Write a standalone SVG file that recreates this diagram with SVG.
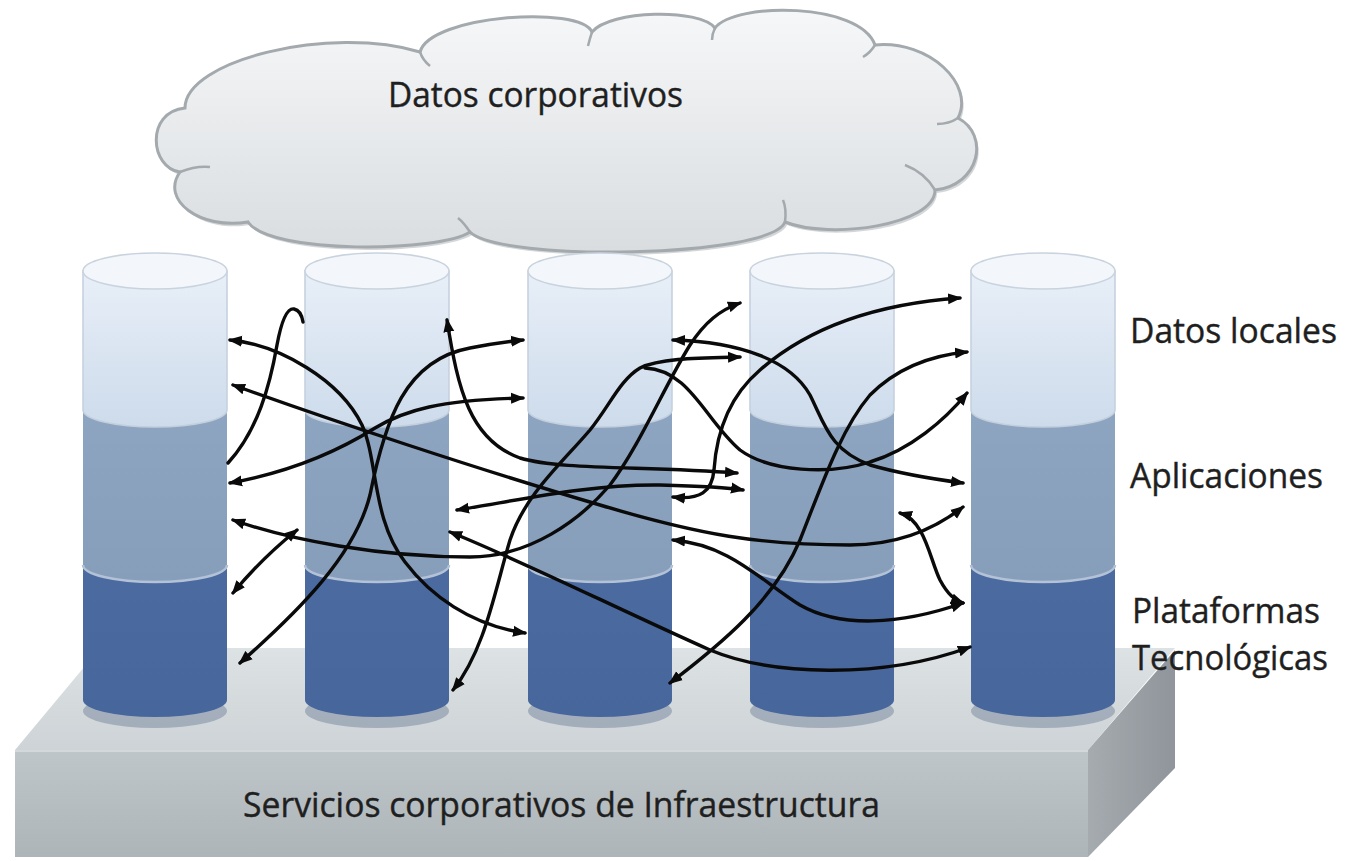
<svg xmlns="http://www.w3.org/2000/svg" xmlns:xlink="http://www.w3.org/1999/xlink" width="1345" height="861" viewBox="0 0 1345 861">
<style>
.lbl{font-family:'Open Sans','Liberation Sans',sans-serif;font-size:34px;fill:#1f1f1f;stroke:#1f1f1f;stroke-width:0.4}
.cn path{fill:none;stroke:#0a0a0a;stroke-width:3.4;stroke-linecap:round}
.both{marker-start:url(#ah);marker-end:url(#ah)}
.end{marker-end:url(#ah)}
</style>
<defs>
<marker id="ah" viewBox="0 0 14 12" refX="12" refY="6" markerWidth="14" markerHeight="12" markerUnits="userSpaceOnUse" orient="auto-start-reverse">
<path d="M0,0.5 L14,6 L0,11.5 Z" fill="#0a0a0a"/>
</marker>
<linearGradient id="gCloud" x1="0" y1="0" x2="0" y2="1">
<stop offset="0" stop-color="#f6f7f8"/><stop offset="1" stop-color="#d9dde0"/>
</linearGradient>
<linearGradient id="gLight" x1="0" y1="0" x2="0" y2="1">
<stop offset="0" stop-color="#e8eff8"/><stop offset="1" stop-color="#cddbeb"/>
</linearGradient>
<linearGradient id="gMid" x1="0" y1="0" x2="0" y2="1">
<stop offset="0" stop-color="#8ea5c1"/><stop offset="1" stop-color="#879ebb"/>
</linearGradient>
<linearGradient id="gDark" x1="0" y1="0" x2="0" y2="1">
<stop offset="0" stop-color="#4b6ba1"/><stop offset="1" stop-color="#46669c"/>
</linearGradient>
<linearGradient id="gTop" x1="0" y1="0" x2="0" y2="1">
<stop offset="0" stop-color="#dde2e4"/><stop offset="1" stop-color="#cdd3d6"/>
</linearGradient>
<linearGradient id="gFront" x1="0" y1="0" x2="0" y2="1">
<stop offset="0" stop-color="#bfc6ca"/><stop offset="1" stop-color="#aeb5b9"/>
</linearGradient>
<linearGradient id="gSide" x1="0" y1="0" x2="1" y2="0">
<stop offset="0" stop-color="#a5abaf"/><stop offset="1" stop-color="#8f959a"/>
</linearGradient>
<g id="cyl">
<ellipse cx="0" cy="711" rx="72" ry="17" fill="#7d8ca3" opacity="0.55"/>
<path d="M-72,565 L-72,700 A72,17 0 0 0 72,700 L72,565 A72,17 0 0 0 -72,565 Z" fill="url(#gDark)"/>
<path d="M-72,410 L-72,565 A72,17 0 0 0 72,565 L72,410 Z" fill="url(#gMid)"/>
<path d="M-72,565 A72,17 0 0 0 72,565" fill="none" stroke="#b3c2d6" stroke-width="2.5"/>
<path d="M-72,271 L-72,410 A72,17 0 0 0 72,410 L72,271 Z" fill="url(#gLight)" stroke="#c3cfdd" stroke-width="1.5"/>
<ellipse cx="0" cy="271" rx="72" ry="18" fill="#f3f7fb" stroke="#c9d3de" stroke-width="1.5"/>
</g>
</defs>
<rect width="1345" height="861" fill="#ffffff"/>

<g id="base">
<polygon points="100,648 1175,648 1088,750 15,750" fill="url(#gTop)"/>
<rect x="15" y="750" width="1073" height="107" fill="url(#gFront)"/>
<line x1="15" y1="751" x2="1088" y2="751" stroke="#d3d8db" stroke-width="2"/>
<polygon points="1088,750 1175,650 1175,768 1088,857" fill="url(#gSide)"/>
<text class="lbl" x="243" y="817" textLength="637" lengthAdjust="spacingAndGlyphs">Servicios corporativos de Infraestructura</text>
</g>

<g id="cloud">
<path transform="translate(2,3)" d="M180,172 C150,168 145,112 185,108 C185,60 330,25 420,52 C430,15 580,5 592,32 C610,10 700,8 715,28 C735,2 860,2 875,45 C930,40 975,85 958,118 C990,135 980,185 935,190 C935,225 830,240 785,222 C770,258 500,262 470,232 C440,252 270,255 248,222 C200,230 160,200 180,172 Z" fill="#b7bcbf" opacity="0.6"/>
<path d="M180,172 C150,168 145,112 185,108 C185,60 330,25 420,52 C430,15 580,5 592,32 C610,10 700,8 715,28 C735,2 860,2 875,45 C930,40 975,85 958,118 C990,135 980,185 935,190 C935,225 830,240 785,222 C770,258 500,262 470,232 C440,252 270,255 248,222 C200,230 160,200 180,172 Z" fill="url(#gCloud)" stroke="#a3a9ad" stroke-width="3"/>
<g fill="none" stroke="#a3a9ad" stroke-width="2.5">
<path d="M180,172 C190,168 200,166 210,167"/>
<path d="M420,52 C422,58 425,62 430,66"/>
<path d="M592,32 C590,38 589,42 588,46"/>
<path d="M715,28 C713,32 712,36 712,40"/>
<path d="M875,45 C872,50 868,54 863,57"/>
<path d="M958,118 C952,122 945,124 937,124"/>
<path d="M935,190 C928,178 918,170 905,165"/>
<path d="M785,222 C786,214 786,207 783,200"/>
<path d="M470,232 C466,226 463,222 458,218"/>
</g>
<text class="lbl" x="388" y="107" textLength="295" lengthAdjust="spacingAndGlyphs">Datos corporativos</text>
</g>

<g id="cyl1"><use xlink:href="#cyl" transform="translate(155,0)"/></g>
<g id="cyl2"><use xlink:href="#cyl" transform="translate(377,0)"/></g>
<g id="cyl3"><use xlink:href="#cyl" transform="translate(600,0)"/></g>
<g id="cyl4"><use xlink:href="#cyl" transform="translate(822,0)"/></g>
<g id="cyl5"><use xlink:href="#cyl" transform="translate(1043,0)"/></g>

<g id="connectors" class="cn">
<path class="both" d="M230,340 C280,345 340,380 362,425 C378,460 372,520 405,562 C430,595 470,625 525,633"/>
<path class="both" d="M233,385 C330,420 480,470 600,505 C700,535 760,545 850,545 C905,545 940,525 963,507"/>
<path class="both" d="M230,483 C290,472 340,450 375,428 C405,410 440,400 523,398"/>
<path class="both" d="M233,520 C290,540 380,557 470,557 C530,557 580,520 610,485 C640,445 665,385 690,345 C705,322 720,310 740,303"/>
<path class="both" d="M233,593 Q262,558 297,530"/>
<path d="M228,463 C258,430 270,385 277,345 C282,318 288,308 294,309 C299,310 302,316 303,322"/>
<path class="both" d="M240,663 C300,610 355,555 370,495 C385,420 405,360 470,348 C490,344 505,342 523,340"/>
<path class="both" d="M447,320 C458,390 470,440 520,458 C560,470 640,466 737,473"/>
<path class="both" d="M457,510 C520,500 590,484 660,485 C700,486 725,487 743,490"/>
<path class="both" d="M453,690 C485,650 495,590 510,540 C525,495 560,465 590,430 C610,405 620,380 640,368 C660,358 700,358 740,357"/>
<path class="end" d="M645,368 C690,370 705,420 740,450 C770,472 830,475 870,462 C910,450 945,420 967,393"/>
<path class="both" d="M673,340 C740,342 790,360 810,395 C825,425 830,450 870,465 C905,475 940,480 963,483"/>
<path class="both" d="M673,497 C700,500 712,492 714,470 C716,440 725,400 760,370 C800,335 860,305 960,298"/>
<path class="both" d="M670,683 C720,645 775,600 800,540 C820,490 840,430 870,395 C900,365 935,355 967,352"/>
<path class="both" d="M673,540 C730,545 760,580 800,605 C840,628 900,625 963,603"/>
<path class="both" d="M900,513 C925,520 930,560 940,580 C948,595 955,600 963,603"/>
<path class="both" d="M450,532 C520,560 620,610 710,650 C770,675 880,680 970,647"/>
</g>

<g id="labels">
<text class="lbl" x="1130" y="343" textLength="207" lengthAdjust="spacingAndGlyphs">Datos locales</text>
<text class="lbl" x="1130" y="488" textLength="193" lengthAdjust="spacingAndGlyphs">Aplicaciones</text>
<text class="lbl" x="1132" y="623" textLength="188" lengthAdjust="spacingAndGlyphs">Plataformas</text>
<text class="lbl" x="1132" y="670" textLength="196" lengthAdjust="spacingAndGlyphs">Tecnológicas</text>
</g>
</svg>
